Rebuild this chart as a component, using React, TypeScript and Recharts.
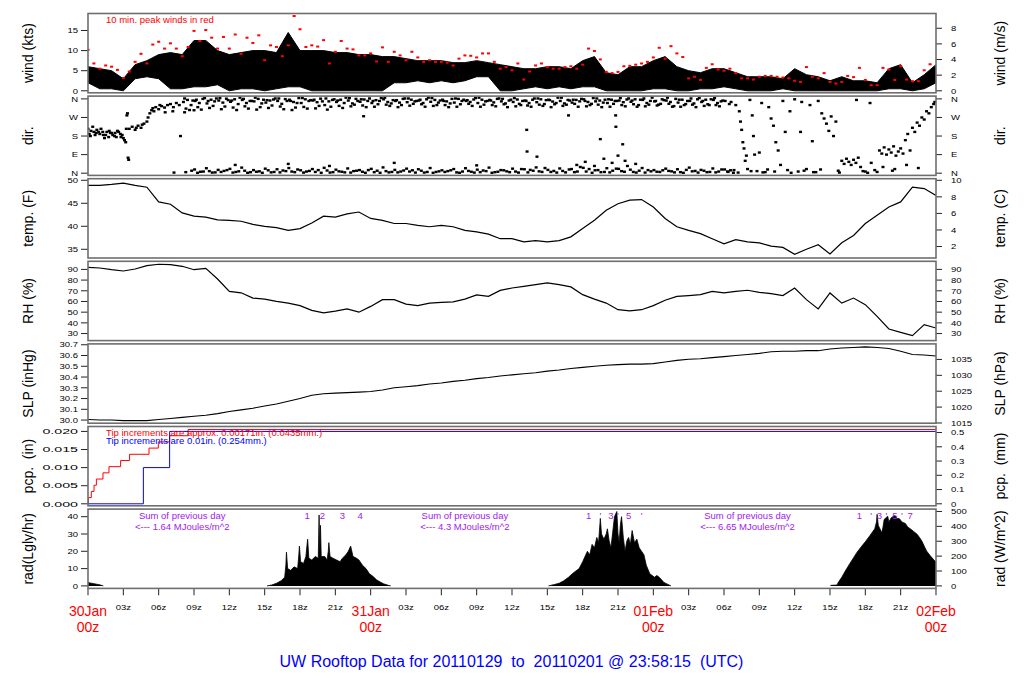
import React from 'react';
import { ComposedChart, Area, Line, Scatter, XAxis, YAxis } from 'recharts';

const FONT = '"Liberation Sans", Arial, Helvetica, sans-serif';

// hourly time stamps, 30Jan 00z .. 02Feb 00z
const HOURS = Array.from({ length: 73 }, (_, i) => i);

// wind (kts): hourly envelope of the 1-min trace
const windLo = [2, 0.5, 0.5, 0, 3, 3.5, 3, 0.5, 0.5, 1, 1, 1.5, 0, 0.5, 0.5, 0, 0.5, 1, 1, 0, 0, 0, 0, 0, 0, 0, 2, 2, 2.5, 2, 2.5, 2, 2.5, 3.5, 3.5, 0, 0, 0.5, 1, 0.5, 1, 0.5, 1, 1, 0, 0, 0, 0, 0.5, 0.5, 0, 0, 0.5, 0.5, 1, 0.5, 0, 0, 0, 0.5, 0, 0, 0, 0, 0, 0, 0, 0, 0.5, 0.5, 0, 0.5, 2];
const windHi = [6, 5.5, 5, 3, 6.5, 7.5, 9, 9.5, 9, 12.5, 12.5, 10, 9, 9.5, 10, 10, 9.5, 14.5, 10, 10, 10, 9.5, 9.5, 9, 9, 8.5, 8.5, 8, 7.5, 7.5, 7.5, 7, 7, 7.5, 7, 6.5, 6, 5.5, 5.5, 6, 6, 5.5, 7.5, 8.5, 4.5, 4, 6, 6, 7.5, 8.5, 6, 5, 4.5, 5.5, 5.5, 4.5, 3.5, 3.5, 3.5, 3, 5.5, 4, 3.5, 2.5, 3.5, 2.5, 2.5, 2, 5.5, 6.5, 2, 4, 6.5];
// 10 min peak winds (kts), every half hour
const windPeak = [
  10.2, 6.8, 5.5, 6.3, 6.0, 5.2, 3.2, 4.8, 7.2, 9.2, 6.8, 11.5, 12.2, 10.5, 11.8, 10.5, 8.6, 10.9, 14.9, 12.4, 15.1, 13.2,
  10.5, 13.4, 10.5, 14.0, 9.2, 13.2, 11.9, 13.8, 7.6, 11.3, 10.9, 8.6, 11.3, 18.6, 15.3, 10.9, 11.3, 11.0, 12.6, 6.8, 9.7, 12.4,
  10.5, 10.3, 8.8, 8.8, 9.3, 7.3, 10.8, 7.2, 9.7, 8.8, 7.6, 9.7, 8.3, 7.2, 7.6, 7.2, 7.2, 7.0, 6.3, 8.0,
  8.8, 8.7, 8.3, 9.3, 9.3, 7.2, 5.5, 5.9, 5.1, 6.8, 2.8, 4.8, 6.3, 6.8, 5.9, 5.5, 5.5, 5.9, 6.1, 5.5,
  6.5, 10.5, 9.9, 7.8, 4.7, 4.4, 4.7, 6.1, 6.2, 6.5, 6.8, 7.2, 8.3, 10.7, 8.0, 11.1, 9.3, 8.4,
  3.1, 3.5, 2.7, 5.7, 6.6, 5.3, 5.0, 5.5, 4.4, 3.1, 3.1, 2.8, 3.5, 3.7, 3.7, 3.5, 3.3, 3.1, 2.5, 2.2,
  5.9, 3.5, 3.1, 4.4, 2.2, 1.8, 2.2, 3.7, 3.4, 5.7, 2.7, 1.4, 1.4, 5.7, 5.3, 2.7, 6.1, 2.8, 2.4, 2.4, 5.1, 6.6,
];

// wind direction obs: [hour, degrees]
const dirEarly: [number, number][] = [
  [0, 215], [0.1, 190], [0.25, 205], [0.4, 225], [0.5, 200], [0.6, 185], [0.75, 210], [0.9, 200], [1, 190], [1.1, 215],
  [1.25, 200], [1.4, 170], [1.5, 185], [1.6, 200], [1.75, 175], [1.9, 195], [2, 195], [2.1, 185], [2.25, 180], [2.4, 175],
  [2.5, 205], [2.6, 200], [2.75, 190], [2.9, 185], [3, 170], [3.1, 160], [3.2, 150], [3.25, 215], [3.3, 280], [3.35, 290],
  [3.4, 75], [3.45, 65], [3.5, 215], [3.75, 225], [4, 210], [4.25, 230], [4.5, 220], [4.75, 240], [5, 250], [5.1, 270],
  [5.25, 290], [5.4, 305], [5.5, 315], [5.75, 320], [6, 310], [6.25, 325], [6.5, 318], [6.55, 295], [6.75, 330], [7, 335],
  [7.2, 300], [7.25, 320], [7.5, 340], [7.75, 330], [7.85, 180], [8.2, 295], [9, 305],
  [0.2, 180], [0.7, 195], [1.3, 185], [1.8, 205], [2.3, 195], [2.8, 175], [4.1, 220], [4.6, 235], [5.6, 300], [6.1, 330],
];
const dirTopA: [number, number][] = [
  [8.1, 345], [8.45, 355], [8.75, 330], [9.1, 350], [9.45, 340], [9.75, 360], [10.1, 338], [10.45, 356], [10.75, 348],
  [11.1, 352], [11.45, 342], [11.75, 361], [12.1, 346], [12.45, 358], [12.75, 335], [13.1, 355], [13.45, 340], [13.75, 350],
  [14.1, 348], [14.45, 360], [14.75, 338], [15.1, 342], [15.45, 352], [15.75, 357], [16.1, 350], [16.45, 336], [16.75, 359],
  [17.1, 356], [17.45, 345], [17.75, 340], [18.1, 340], [18.45, 358], [18.75, 350], [19.1, 352], [19.45, 344], [19.75, 361],
  [20.1, 330], [20.45, 348], [20.75, 355], [21.1, 345], [21.45, 356], [21.75, 340], [22.1, 352], [22.45, 338], [22.75, 360],
  [23.1, 346], [23.45, 357], [23.75, 350], [24.1, 340], [24.45, 354], [24.75, 350], [25.1, 358], [25.45, 345], [25.75, 338],
  [26.1, 350], [26.45, 342], [26.75, 360], [27.1, 344], [27.45, 356], [27.75, 348], [28.1, 352], [28.45, 340], [28.75, 358],
  [29.1, 346], [29.45, 355], [29.75, 342], [30.1, 356], [30.45, 348], [30.75, 338], [31.1, 342], [31.45, 360], [31.75, 350],
  [32.1, 350], [32.45, 345], [32.75, 357], [33.1, 340], [33.45, 356], [33.75, 348], [34.1, 355], [34.45, 343], [34.75, 360],
  [35.1, 348], [35.45, 338], [35.75, 352], [36.1, 345], [36.45, 357], [36.75, 330], [37.1, 352], [37.45, 340], [37.75, 356],
  [38.1, 344], [38.45, 358], [38.75, 335], [39.1, 356], [39.45, 347], [39.75, 340], [40.1, 350], [40.45, 338], [40.75, 355],
  [41.1, 342], [41.45, 355], [41.75, 348], [42.1, 358], [42.45, 345], [42.75, 336], [43.1, 348], [43.45, 352], [43.75, 342],
  [44.1, 340], [44.45, 356], [44.75, 350], [45.1, 352], [45.45, 344], [45.75, 357], [46.1, 346], [46.45, 358], [46.75, 330],
  [47.1, 355], [47.45, 340], [47.75, 350], [48.1, 348], [48.45, 332], [48.75, 358], [49.1, 352], [49.45, 345], [49.75, 325],
  [50.1, 342], [50.45, 356], [50.75, 335], [51.1, 350], [51.45, 338], [51.75, 358], [52.1, 345], [52.45, 356], [52.75, 330],
  [53.1, 355], [53.45, 340], [53.75, 348], [54.1, 350], [54.45, 335],
];
const dirTopB: [number, number][] = [
  [8.32, 313], [8.62, 306], [9.32, 320], [9.62, 308], [10.32, 316], [10.62, 326], [11.32, 310], [11.62, 323], [12.32, 318], [12.62, 306],
  [13.32, 324], [13.62, 313], [14.32, 308], [14.62, 320], [15.32, 316], [15.62, 328], [16.32, 323], [16.62, 310], [17.32, 306], [17.62, 318],
  [18.32, 321], [18.62, 313], [19.32, 314], [19.62, 326], [20.32, 308], [20.62, 322], [21.32, 326], [21.62, 316], [22.32, 324], [22.62, 332],
  [23.32, 328], [23.62, 320], [24.32, 322], [24.62, 334], [25.32, 332], [25.62, 326], [26.32, 320], [26.62, 330], [27.32, 327], [27.62, 336],
  [28.32, 334], [28.62, 322], [29.32, 326], [29.62, 330], [30.32, 330], [30.62, 320], [31.32, 322], [31.62, 334], [32.32, 336], [32.62, 326],
  [33.32, 322], [33.62, 332], [34.32, 330], [34.62, 324], [35.32, 334], [35.62, 320], [36.32, 324], [36.62, 336], [37.32, 328], [37.62, 322],
  [38.32, 332], [38.62, 326], [39.32, 320], [39.62, 334], [40.32, 326], [40.62, 332], [41.32, 336], [41.62, 322], [42.32, 324], [42.62, 330],
  [43.32, 332], [43.62, 320], [44.32, 322], [44.62, 336], [45.32, 330], [45.62, 324], [46.32, 334], [46.62, 322], [47.32, 324], [47.62, 332],
  [48.32, 328], [48.62, 336], [49.32, 336], [49.62, 322], [50.32, 322], [50.62, 330], [51.32, 332], [51.62, 320], [52.32, 326], [52.62, 334],
  [53.32, 330], [53.62, 324],
];
const dirTopC: [number, number][] = [
  [8.2, 362], [8.9, 352], [9.2, 356], [9.9, 364], [10.2, 350], [10.9, 362], [11.2, 364], [11.9, 354], [12.2, 352], [12.9, 366],
  [13.2, 360], [13.9, 350], [14.2, 366], [14.9, 356], [15.2, 354], [15.9, 362], [16.2, 362], [16.9, 350], [17.2, 350], [17.9, 364],
  [18.2, 364], [18.9, 354], [19.2, 356], [19.9, 348], [20.2, 362], [20.9, 358], [21.2, 352], [21.9, 366], [22.2, 364], [22.9, 350],
  [23.2, 358], [23.9, 362], [24.2, 350], [24.9, 364], [25.2, 366], [25.9, 354], [26.2, 354], [26.9, 362], [27.2, 362], [27.9, 350],
  [28.2, 356], [28.9, 366], [29.2, 364], [29.9, 352], [30.2, 350], [30.9, 360], [31.2, 362], [31.9, 356], [32.2, 354], [32.9, 364],
  [33.2, 366], [33.9, 350], [34.2, 352], [34.9, 362], [35.2, 360], [35.9, 356], [36.2, 364], [36.9, 350], [37.2, 350], [37.9, 362],
  [38.2, 362], [38.9, 354], [39.2, 354], [39.9, 366], [40.2, 366], [40.9, 352], [41.2, 356], [41.9, 360], [42.2, 350], [42.9, 364],
  [43.2, 362], [43.9, 356], [44.2, 358], [44.9, 350], [45.2, 364], [45.9, 362], [46.2, 352], [46.9, 356], [47.2, 362], [47.9, 366],
  [48.2, 350], [48.9, 354], [49.2, 366], [49.9, 360], [50.2, 356], [50.9, 350], [51.2, 362], [51.9, 364], [52.2, 350], [52.9, 358],
  [53.2, 364], [53.9, 352],
];
const dirBottomA: [number, number][] = [
  [7.3, 3], [8.3, 5], [8.8, 12], [9.3, 2], [9.8, 8], [10.3, 10], [10.8, 4], [11.3, 6], [11.8, 15], [12.3, 3], [12.8, 9],
  [13.3, 12], [13.8, 5], [14.3, 7], [14.8, 2], [15.3, 14], [15.8, 6], [16.3, 4], [16.8, 10], [17.3, 8], [17.8, 18], [18.3, 3],
  [18.8, 11], [19.3, 6], [19.8, 2], [20.3, 13], [20.8, 5], [21.3, 9], [21.8, 4], [22.3, 3], [22.8, 12], [23.3, 7], [23.8, 15],
  [24.3, 5], [24.8, 2], [25.3, 10], [25.8, 6], [26.3, 4], [26.8, 13], [27.3, 8], [27.8, 3], [28.3, 12], [28.8, 6], [29.3, 2],
  [29.8, 9], [30.3, 6], [30.8, 14], [31.3, 4], [31.8, 8], [32.3, 11], [32.8, 3], [33.3, 5], [33.8, 10], [34.3, 2], [34.8, 7],
  [35.3, 14], [35.8, 5], [36.3, 8], [36.8, 20], [37.35, 4], [37.8, 12], [38.3, 9], [38.8, 25], [39.3, 6], [39.8, 3], [40.3, 11],
  [40.85, 18], [41.3, 5], [41.8, 30], [42.3, 8], [42.8, 2], [43.3, 15], [43.85, 6], [44.3, 4], [44.85, 22], [45.3, 10], [45.8, 35],
  [46.3, 6], [46.8, 12], [47.3, 3], [47.8, 9], [48.3, 7], [48.8, 14], [49.3, 11], [49.8, 4], [50.3, 5], [50.8, 16], [51.3, 9],
  [51.8, 3], [52.3, 12], [52.8, 6], [53.3, 4], [53.8, 18], [54.3, 8], [54.8, 2],
];
const dirBottomB: [number, number][] = [
  [9.55, 7], [10.55, 3], [11.55, 11], [12.55, 6], [13.55, 2], [14.55, 9], [15.55, 4], [16.55, 13], [17.55, 5], [18.55, 8],
  [19.55, 15], [20.55, 3], [21.55, 7], [22.55, 10], [23.55, 2], [24.55, 12], [25.55, 4], [26.55, 8], [27.55, 14], [28.55, 3],
  [29.55, 6], [30.55, 10], [31.55, 2], [32.55, 7], [33.55, 13], [34.55, 5], [35.55, 9], [36.55, 3], [37.55, 16], [38.55, 6],
  [39.55, 11], [40.55, 4], [41.55, 8], [42.55, 20], [43.55, 5], [44.55, 12], [45.55, 7], [46.55, 3], [47.55, 15], [48.55, 6],
  [49.55, 9], [50.55, 2], [51.55, 11], [52.55, 5], [53.55, 8], [54.55, 14],
  [9.05, 18], [10.05, 24], [11.05, 16], [12.05, 21], [13.05, 27], [14.05, 15], [15.05, 22], [16.05, 19], [17.05, 25], [18.05, 14],
  [19.05, 20], [20.05, 26], [21.05, 17], [22.05, 23], [23.05, 15], [24.05, 21], [25.05, 28], [26.05, 16], [27.05, 22], [28.05, 19],
  [29.05, 25], [30.05, 14], [31.05, 20], [32.05, 24], [33.05, 17], [34.05, 27], [35.05, 15], [36.05, 22], [37.05, 19], [38.05, 28],
  [39.05, 16], [40.05, 23], [41.05, 20], [42.05, 26], [43.05, 14], [44.05, 24], [45.05, 21], [46.05, 17], [47.05, 25], [48.05, 15],
  [49.05, 22], [50.05, 19], [51.05, 27], [52.05, 16], [53.05, 23], [54.05, 18],
];
const dirScatter: [number, number][] = [
  [23.4, 276], [37.25, 210], [40.8, 280], [43.5, 165], [44.8, 280], [44.82, 225], [45.4, 140], [37.28, 105], [38.12, 80],
  [41.5, 40], [42.22, 55], [43, 35], [43.8, 70], [44.5, 50], [45, 85], [45.6, 60], [46.5, 45], [12.5, 40], [17, 45], [20.5, 35],
  [26, 50], [33, 38],
  [54.6, 345], [55, 330], [55.3, 300], [55.4, 250], [55.5, 210], [55.6, 150], [55.7, 120], [55.8, 60], [56, 20], [56.2, 355],
  [56.4, 280], [56.5, 180], [56.6, 90], [56.8, 10], [57.2, 340], [57.5, 5], [57.8, 320], [58, 265], [58.2, 230], [58.4, 150],
  [58.6, 110], [58.8, 40], [59, 350], [59.2, 200], [59.4, 15], [59.6, 300], [60, 358], [60.3, 8], [60.6, 345], [61, 20],
  [61.3, 330], [61.6, 5], [62, 350], [62.3, 290], [62.5, 265], [62.7, 240], [62.9, 205], [63.1, 275], [63.3, 180], [63.5, 250],
  [63.7, 12], [64, 60], [64.2, 45], [64.4, 70], [64.6, 55], [64.8, 40], [65, 65], [65.2, 50], [65.4, 75], [65.6, 30],
  [65.25, 355], [66, 8], [66.4, 340], [66.8, 15], [67.2, 110], [67.4, 95], [67.6, 125], [67.8, 90], [68, 115], [68.2, 100],
  [68.4, 130], [68.6, 85], [68.8, 105], [69, 120], [69.2, 95], [69.4, 160], [69.6, 190], [69.8, 110], [70, 220], [70.2, 200],
  [70.4, 245], [70.6, 230], [70.8, 270], [71, 260], [71.2, 300], [71.4, 290], [71.6, 320], [71.8, 335], [71.9, 345],
  [70.5, 25], [69.5, 40], [68.5, 20], [67.5, 30], [66.5, 50], [60.5, 200], [61.5, 155], [57, 100], [55.9, 85],
  [54.35, 6], [54.85, 15], [55.2, 3], [56.3, 10], [57.3, 4], [57.7, 18], [58.3, 8], [59.7, 2], [60.8, 12], [61.8, 5],
  [62.2, 18], [63.8, 3], [65.8, 10], [66.2, 2], [67, 6], [68.3, 12],
];
const dirGroups = [dirEarly, dirTopA, dirTopB, dirTopC, dirBottomA, dirBottomB, dirScatter];

const tempF = [48.9, 48.9, 49.1, 49.4, 48.9, 48.5, 45.3, 44.8, 42.9, 42.2, 42.0, 41.4, 41.3, 41.1, 40.4, 40.0, 39.7, 39.1, 39.5, 40.7, 42.2, 42.0, 42.7, 43.1, 41.7, 41.3, 40.6, 40.6, 40.2, 39.9, 40.2, 39.9, 39.1, 38.8, 38.3, 37.3, 37.3, 36.6, 36.9, 36.6, 36.9, 37.7, 39.5, 41.3, 43.5, 44.9, 45.7, 45.8, 44.2, 41.7, 39.9, 39.1, 38.4, 37.3, 36.2, 37.1, 36.6, 36.4, 35.7, 35.4, 33.9, 35.0, 36.0, 34.0, 36.4, 38.0, 40.6, 42.4, 44.2, 45.3, 48.5, 48.2, 46.7];
const rhPct = [91.9, 91.3, 89.7, 88.5, 90.4, 93.5, 94.8, 94.4, 92.9, 89.7, 91.0, 81.0, 69.5, 68.1, 63.2, 62.2, 60.1, 58.5, 56.1, 51.7, 49.3, 50.9, 53.0, 50.0, 55.4, 61.7, 61.7, 57.6, 56.1, 58.5, 59.1, 59.7, 62.2, 66.1, 64.8, 70.4, 72.6, 74.2, 75.7, 77.3, 75.7, 73.6, 66.4, 62.2, 58.5, 52.3, 51.3, 52.3, 56.1, 61.1, 64.8, 65.5, 66.4, 69.5, 68.0, 69.5, 70.5, 68.6, 67.4, 65.5, 72.6, 61.7, 53.0, 68.0, 58.5, 63.2, 57.0, 46.0, 34.3, 31.1, 28.0, 38.3, 35.2];
const slpInHg = [30.005, 30.0, 30.0, 29.995, 29.995, 29.995, 30.005, 30.015, 30.025, 30.035, 30.045, 30.06, 30.08, 30.095, 30.11, 30.13, 30.15, 30.175, 30.2, 30.23, 30.245, 30.25, 30.255, 30.26, 30.265, 30.28, 30.3, 30.31, 30.32, 30.335, 30.345, 30.36, 30.37, 30.385, 30.395, 30.41, 30.42, 30.43, 30.44, 30.455, 30.465, 30.48, 30.49, 30.5, 30.51, 30.515, 30.52, 30.52, 30.525, 30.54, 30.555, 30.565, 30.57, 30.58, 30.59, 30.6, 30.61, 30.62, 30.635, 30.64, 30.64, 30.645, 30.645, 30.66, 30.67, 30.675, 30.68, 30.675, 30.665, 30.64, 30.61, 30.605, 30.595];

// accumulated precip (in) at each tip: [hour, total]
const pcpRed: [number, number][] = [[0, 0], [0.03, 0.00171], [0.28, 0.00342], [0.51, 0.00513], [0.71, 0.00684], [1.27, 0.00855], [1.78, 0.01026], [2.77, 0.01197], [3.53, 0.01368], [5.18, 0.01539], [5.97, 0.0171], [6.93, 0.01881], [8.5, 0.02052], [72, 0.02052]];
const pcpBlue: [number, number][] = [[0, 0], [4.7, 0.01], [6.93, 0.02], [72, 0.02]];

// solar radiation (Langley/hr): [hour, value], null = night gap
const radLy: [number, number | null][] = [
  [0, 1.9], [0.5, 1.3], [1, 0.6], [1.3, 0], [8, null],
  [15.2, 0], [15.6, 0.5], [16, 1.5], [16.4, 3], [16.7, 5], [16.8, 12], [16.85, 19.5], [16.95, 10], [17.2, 9], [17.5, 11], [17.8, 10],
  [17.9, 18], [17.95, 23], [18.05, 14], [18.3, 13], [18.5, 17], [18.6, 24], [18.65, 27], [18.75, 16], [19, 15], [19.3, 17],
  [19.55, 16], [19.62, 41], [19.68, 18], [19.74, 35], [19.8, 17], [20.1, 17], [20.3, 15], [20.4, 20], [20.45, 25], [20.55, 17],
  [20.8, 16], [21.1, 15], [21.4, 14], [21.6, 16], [21.9, 18], [22.1, 20], [22.3, 23], [22.5, 17], [22.8, 16], [23, 15],
  [23.3, 12], [23.6, 10], [23.9, 7], [24.2, 5.5], [24.5, 3.5], [24.8, 2.3], [25.1, 1.2], [25.5, 0.3], [25.7, 0], [32, null],
  [39.1, 0], [39.6, 0.8], [40, 1.5], [40.4, 3], [40.8, 5], [41.2, 7.5], [41.7, 10], [42, 14], [42.4, 20], [42.6, 18], [42.8, 24],
  [43, 22], [43.2, 28], [43.35, 25], [43.5, 39], [43.6, 30], [43.8, 27], [44, 30], [44.1, 33], [44.25, 26], [44.4, 22],
  [44.55, 31], [44.7, 40], [44.9, 43], [45, 30], [45.1, 25], [45.2, 35], [45.3, 40], [45.45, 28], [45.6, 20], [45.75, 26],
  [45.9, 28], [46.05, 24], [46.2, 32], [46.4, 25], [46.6, 27], [46.8, 22], [47, 20], [47.2, 18], [47.4, 12], [47.7, 7],
  [48.1, 5], [48.3, 6], [48.5, 5], [48.7, 3.5], [48.9, 2], [49.2, 1], [49.5, 0], [56, null],
  [63.05, 0.3], [63.6, 0.5], [63.7, 2], [64, 5], [64.3, 8.6], [64.6, 12], [65, 16.3], [65.3, 19.5], [65.7, 23], [66, 25.5],
  [66.4, 29.2], [66.8, 33], [66.95, 37], [67, 41.3], [67.1, 35], [67.2, 33.6], [67.4, 30.7], [67.5, 34], [67.6, 38.4],
  [67.9, 40.3], [68, 37], [68.2, 39.4], [68.5, 40.7], [68.7, 39], [68.9, 38.8], [69.1, 37], [69.4, 36.1], [69.6, 34],
  [69.9, 32.6], [70.1, 31.5], [70.4, 29.8], [70.6, 28], [70.8, 25.9], [71, 23], [71.2, 20.2], [71.5, 17.5], [71.9, 14.4], [72, 13.8],
];

const dayLabels = ['30Jan', '31Jan', '01Feb', '02Feb'];
const timeTicks = [0, 3, 6, 9, 12, 15, 18, 21, 24, 27, 30, 33, 36, 39, 42, 45, 48, 51, 54, 57, 60, 63, 66, 69, 72];
const radSums = ['1.64', '4.3', '6.65'];
const radSumHours = [8, 32, 56];
const radMarks: [number, string][] = [
  [18.6, '1'], [19.9, '2'], [21.6, '3'], [23.1, '4'],
  [42.5, '1'], [43.5, "'"], [44.4, '3'], [45.0, "'"], [45.9, '5'], [47.0, "'"],
  [65.5, '1'], [66.5, "'"], [67.2, '3'], [67.8, "'"], [68.5, '5'], [69.1, "'"], [69.8, '7'],
];

const leftTitles = ['wind (kts)', 'dir.', 'temp. (F)', 'RH (%)', 'SLP (inHg)', 'pcp.  (in)', 'rad(Lgly/hr)'];
const rightTitles = ['wind (m/s)', 'dir.', 'temp. (C)', 'RH (%)', 'SLP (hPa)', 'pcp.  (mm)', 'rad (W/m^2)'];

// layout
const PANEL_TOP = [13.5, 96.1, 178.7, 261.3, 343.9, 426.5, 509.1];
const PANEL_H = 79.3;
const PAD = 8;
const PLOT_X = 88;
const PLOT_W = 848;
const hx = (h: number) => PLOT_X + (h / 72) * PLOT_W;

const dirName: Record<number, string> = { 0: 'N', 90: 'E', 180: 'S', 270: 'W', 360: 'N' };

function ValueTick(props: any) {
  const { x, y, payload, textAnchor, fmt, sx = 1 } = props;
  return (
    <g transform={`translate(${x},${y}) scale(${sx},0.8)`}>
      <text x={0} y={0} dy="0.36em" textAnchor={textAnchor} fontSize={9.5} fontFamily={FONT} fill="#000">
        {fmt(payload.value)}
      </text>
    </g>
  );
}

function TimeTick(props: any) {
  const { x, y, payload } = props;
  const v = payload.value;
  if (v % 24 === 0) {
    return (
      <g>
        <text x={x} y={y + 18.6} textAnchor="middle" fontSize={14} fontFamily={FONT} fill="#ff0000">{dayLabels[v / 24]}</text>
        <text x={x} y={y + 34.3} textAnchor="middle" fontSize={14} fontFamily={FONT} fill="#ff0000">00z</text>
      </g>
    );
  }
  return (
    <g transform={`translate(${x},${y + 12.6}) scale(1,0.8)`}>
      <text x={0} y={0} textAnchor="middle" fontSize={9.5} fontFamily={FONT} fill="#000">{`${String(v % 24).padStart(2, '0')}z`}</text>
    </g>
  );
}

type AxisCfg = { domain: [number, number]; ticks: number[]; fmt: (v: number) => string; sx?: number };

function yPair(l: AxisCfg, r: AxisCfg) {
  return [
    <YAxis key="l" yAxisId="l" orientation="left" type="number" width={60} domain={l.domain} ticks={l.ticks} interval={0}
      allowDataOverflow axisLine={false} tickLine={{ stroke: '#222' }} tickSize={7} tickMargin={3}
      tick={(p: any) => <ValueTick {...p} fmt={l.fmt} sx={l.sx} />} />,
    <YAxis key="r" yAxisId="r" orientation="right" type="number" width={60} domain={r.domain} ticks={r.ticks} interval={0}
      allowDataOverflow axisLine={false} tickLine={{ stroke: '#222' }} tickSize={6} tickMargin={9}
      tick={(p: any) => <ValueTick {...p} fmt={r.fmt} sx={r.sx} />} />,
  ];
}

const hiddenX = <XAxis dataKey="h" type="number" domain={[0, 72]} allowDataOverflow hide />;
const num = (v: number) => String(v);

function Panel({ i, children, data, xAxisH = 0 }: { i: number; children: any; data?: any[]; xAxisH?: number }) {
  const bottom = xAxisH ? 0 : PAD;
  return (
    <div style={{ position: 'absolute', left: 0, top: PANEL_TOP[i] - PAD }}>
      <ComposedChart width={1024} height={PANEL_H + PAD + bottom + xAxisH}
        margin={{ top: PAD, right: 28, bottom, left: 28 }} data={data}>
        {children}
      </ComposedChart>
    </div>
  );
}

const RedDash = (p: any) => <rect x={p.cx - 1.5} y={p.cy - 1} width={3} height={2} fill="#ff0000" />;
const BlackDot = (p: any) =>
  p.cx == null || p.cy == null ? <g key={p.key} /> : <rect key={p.key} x={p.cx - 1.5} y={p.cy - 1.2} width={3} height={2.4} fill="#000" />;

export default function App() {
  const windRows = HOURS.map((h) => ({ h, range: [windLo[h], windHi[h]] }));
  const peakRows = windPeak.map((p, i) => ({ h: i / 2, p }));
  const dirSets = dirGroups.map((g) => g.map(([h, d]) => ({ h, d })));
  const tempRows = HOURS.map((h) => ({ h, v: tempF[h] }));
  const rhRows = HOURS.map((h) => ({ h, v: rhPct[h] }));
  const slpRows = HOURS.map((h) => ({ h, v: slpInHg[h] }));
  const redRows = pcpRed.map(([h, v]) => ({ h, v }));
  const blueRows = pcpBlue.map(([h, v]) => ({ h, v }));
  const radRows = radLy.map(([h, v]) => ({ h, v }));

  return (
    <div style={{ position: 'absolute', left: 0, top: 0, width: 1024, height: 700, background: '#fff', fontFamily: FONT }}>
      <Panel i={0} data={windRows}>
        {hiddenX}
        {yPair(
          { domain: [-0.62, 19.1], ticks: [0, 5, 10, 15], fmt: num },
          { domain: [-0.319, 9.826], ticks: [0, 2, 4, 6, 8], fmt: num },
        )}
        <Area yAxisId="l" dataKey="range" type="linear" stroke="#000" strokeWidth={1} fill="#000" fillOpacity={1} dot={false} activeDot={false} isAnimationActive={false} />
        <Scatter yAxisId="l" data={peakRows} dataKey="p" shape={RedDash} isAnimationActive={false} />
      </Panel>

      <Panel i={1}>
        {hiddenX}
        {yPair(
          { domain: [-10.2, 374], ticks: [0, 90, 180, 270, 360], fmt: (v) => dirName[v] },
          { domain: [-10.2, 374], ticks: [0, 90, 180, 270, 360], fmt: (v) => dirName[v] },
        )}
        {dirSets.map((s, k) => (
          <Line key={`dir${k}`} yAxisId="l" data={s} dataKey="d" type="linear" stroke="none" dot={BlackDot}
            activeDot={false} isAnimationActive={false} />
        ))}
      </Panel>

      <Panel i={2} data={tempRows}>
        {hiddenX}
        {yPair(
          { domain: [33.04, 50.28], ticks: [35, 40, 45, 50], fmt: num },
          { domain: [0.578, 10.156], ticks: [2, 4, 6, 8, 10], fmt: num },
        )}
        <Line yAxisId="l" dataKey="v" type="linear" stroke="#000" strokeWidth={1.2} dot={false} activeDot={false} isAnimationActive={false} />
      </Panel>

      <Panel i={3} data={rhRows}>
        {hiddenX}
        {yPair(
          { domain: [23.7, 97.85], ticks: [30, 40, 50, 60, 70, 80, 90], fmt: num },
          { domain: [23.7, 97.85], ticks: [30, 40, 50, 60, 70, 80, 90], fmt: num },
        )}
        <Line yAxisId="l" dataKey="v" type="linear" stroke="#000" strokeWidth={1.2} dot={false} activeDot={false} isAnimationActive={false} />
      </Panel>

      <Panel i={4} data={slpRows}>
        {hiddenX}
        {yPair(
          { domain: [29.97, 30.707], ticks: [30.0, 30.1, 30.2, 30.3, 30.4, 30.5, 30.6, 30.7], fmt: (v) => v.toFixed(1) },
          { domain: [1014.9, 1039.86], ticks: [1015, 1020, 1025, 1030, 1035], fmt: num },
        )}
        <Line yAxisId="l" dataKey="v" type="linear" stroke="#000" strokeWidth={1.1} dot={false} activeDot={false} isAnimationActive={false} />
      </Panel>

      <Panel i={5}>
        {hiddenX}
        {yPair(
          { domain: [-0.00069, 0.02122], ticks: [0, 0.005, 0.01, 0.015, 0.02], fmt: (v) => v.toFixed(3), sx: 1.5 },
          { domain: [-0.0175, 0.539], ticks: [0, 0.1, 0.2, 0.3, 0.4, 0.5], fmt: (v) => (v === 0 ? '0' : v.toFixed(1)) },
        )}
        <Line yAxisId="l" data={redRows} dataKey="v" type="stepAfter" stroke="#ff0000" strokeWidth={1} dot={false} activeDot={false} isAnimationActive={false} />
        <Line yAxisId="l" data={blueRows} dataKey="v" type="stepAfter" stroke="#0000ff" strokeWidth={1} dot={false} activeDot={false} isAnimationActive={false} />
      </Panel>

      <Panel i={6} xAxisH={55}>
        <XAxis dataKey="h" type="number" domain={[0, 72]} allowDataOverflow ticks={timeTicks} interval={0} height={55}
          axisLine={false} tickLine={{ stroke: '#222' }} tickSize={7} tickMargin={2} tick={(p: any) => <TimeTick {...p} />} />
        {yPair(
          { domain: [-1.39, 44.45], ticks: [0, 10, 20, 30, 40], fmt: num },
          { domain: [-16.15, 516.6], ticks: [0, 100, 200, 300, 400, 500], fmt: num },
        )}
        <Area yAxisId="l" data={radRows} dataKey="v" type="linear" baseValue={0} stroke="#000" strokeWidth={0.8} fill="#000" fillOpacity={1} dot={false} activeDot={false} isAnimationActive={false} />
      </Panel>

      <svg width={1024} height={700} style={{ position: 'absolute', left: 0, top: 0, pointerEvents: 'none' }} fontFamily={FONT}>
        {PANEL_TOP.map((t, i) => (
          <rect key={`f${i}`} x={PLOT_X} y={t} width={PLOT_W} height={PANEL_H} fill="none" stroke="#6e6e6e" strokeWidth={1.6} />
        ))}
        {leftTitles.map((s, i) => (
          <text key={`lt${i}`} transform={`translate(28,${PANEL_TOP[i] + PANEL_H / 2}) rotate(-90)`} textAnchor="middle" dy="0.35em" fontSize={14} fill="#000" style={{ whiteSpace: 'pre' }}>{s}</text>
        ))}
        {rightTitles.map((s, i) => (
          <text key={`rt${i}`} transform={`translate(1000,${PANEL_TOP[i] + PANEL_H / 2}) rotate(-90)`} textAnchor="middle" dy="0.35em" fontSize={14} fill="#000" style={{ whiteSpace: 'pre' }}>{s}</text>
        ))}
        <text x={106} y={22.5} fontSize={9.5} fill="#ff0000">10 min. peak winds in red</text>
        <text x={106} y={435.5} fontSize={9.5} fill="#ff0000">Tip increments are approx. 0.00171in. (0.0435mm.)</text>
        <text x={106} y={444.3} fontSize={9.5} fill="#0000ff">Tip increments are 0.01in. (0.254mm.)</text>
        {radSums.map((s, i) => (
          <g key={`rs${i}`}>
            <text x={hx(radSumHours[i])} y={519.3} textAnchor="middle" fontSize={9.5} fill="#a020f0">Sum of previous day</text>
            <text x={hx(radSumHours[i])} y={530} textAnchor="middle" fontSize={9.5} fill="#a020f0">{`<--- ${s} MJoules/m^2`}</text>
          </g>
        ))}
        {radMarks.map(([h, s], i) => (
          <text key={`rm${i}`} x={hx(h)} y={519.3} textAnchor="middle" fontSize={9.5} fill="#a020f0">{s}</text>
        ))}
        <text x={511.5} y={667} textAnchor="middle" fontSize={16} fill="#0000ff" style={{ whiteSpace: 'pre' }}>
          UW Rooftop Data for 20110129  to  20110201 @ 23:58:15  (UTC)
        </text>
      </svg>
    </div>
  );
}
